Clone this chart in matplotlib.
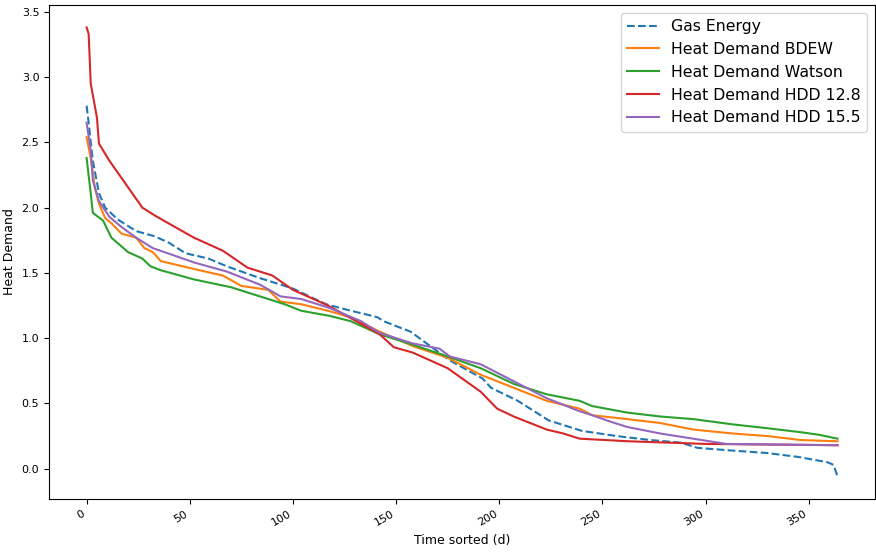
import numpy as np
import matplotlib
matplotlib.use("Agg")
import matplotlib.pyplot as plt

# sorted daily values (day, value)
gas_days = [0, 1, 3, 6, 9, 15, 24, 33, 40, 48, 59, 68, 84, 100, 116, 128, 136, 141, 144, 152, 157,
            176, 192, 196, 209, 224, 240, 257, 273, 288, 296, 312, 330, 345, 359, 362, 364]
gas_vals = [2.78, 2.65, 2.36, 2.11, 2.0, 1.91, 1.82, 1.78, 1.73, 1.65, 1.61, 1.55, 1.46, 1.38, 1.26,
            1.21, 1.18, 1.16, 1.13, 1.08, 1.05, 0.83, 0.69, 0.62, 0.52, 0.37, 0.29, 0.25, 0.22, 0.20,
            0.16, 0.14, 0.12, 0.09, 0.05, 0.03, -0.06]

bdew_days = [0, 2, 4, 6, 9, 12, 17, 24, 28, 32, 36, 52, 66, 75, 88, 94, 104, 117, 128, 142, 158,
             175, 191, 207, 223, 239, 245, 262, 278, 294, 313, 330, 346, 364]
bdew_vals = [2.54, 2.38, 2.15, 2.03, 1.92, 1.88, 1.80, 1.77, 1.69, 1.66, 1.59, 1.53, 1.48, 1.40,
             1.37, 1.28, 1.26, 1.21, 1.16, 1.05, 0.94, 0.85, 0.72, 0.62, 0.52, 0.46, 0.41, 0.38,
             0.35, 0.30, 0.27, 0.25, 0.22, 0.21]

watson_days = [0, 2, 3, 8, 12, 20, 27, 31, 36, 52, 70, 86, 96, 104, 118, 128, 142, 158, 175, 191,
               207, 223, 239, 245, 262, 278, 294, 313, 330, 346, 355, 364]
watson_vals = [2.38, 2.11, 1.96, 1.90, 1.77, 1.66, 1.61, 1.55, 1.52, 1.45, 1.39, 1.31, 1.26, 1.21,
               1.17, 1.13, 1.03, 0.95, 0.86, 0.77, 0.65, 0.57, 0.52, 0.48, 0.43, 0.40, 0.38, 0.34,
               0.31, 0.28, 0.26, 0.23]

hdd128_days = [0, 1, 2, 5, 6, 11, 19, 27, 33, 43, 52, 66, 78, 90, 100, 117, 133, 142, 149, 158,
               175, 191, 199, 207, 215, 223, 231, 239, 263, 300, 364]
hdd128_vals = [3.38, 3.33, 2.95, 2.69, 2.49, 2.36, 2.18, 2.0, 1.94, 1.85, 1.77, 1.67, 1.54, 1.48,
               1.37, 1.25, 1.11, 1.03, 0.93, 0.89, 0.77, 0.59, 0.46, 0.40, 0.35, 0.30, 0.27, 0.23,
               0.21, 0.19, 0.18]

hdd155_days = [0, 2, 3, 6, 11, 17, 24, 32, 43, 52, 68, 84, 94, 104, 118, 133, 142, 158, 171, 176,
               191, 207, 223, 239, 245, 254, 262, 278, 294, 302, 310, 364]
hdd155_vals = [2.65, 2.44, 2.21, 2.05, 1.93, 1.85, 1.77, 1.69, 1.63, 1.58, 1.51, 1.41, 1.32, 1.30,
               1.23, 1.13, 1.04, 0.96, 0.92, 0.86, 0.80, 0.67, 0.54, 0.44, 0.41, 0.36, 0.32, 0.27,
               0.23, 0.21, 0.19, 0.18]

fig = plt.figure(figsize=(8.76, 5.52), dpi=100)
ax = fig.add_axes([0.056, 0.096, 0.943, 0.895])

ax.plot(gas_days, gas_vals, linestyle="--", label="Gas Energy")
ax.plot(bdew_days, bdew_vals, label="Heat Demand BDEW")
ax.plot(watson_days, watson_vals, label="Heat Demand Watson")
ax.plot(hdd128_days, hdd128_vals, label="Heat Demand HDD 12.8")
ax.plot(hdd155_days, hdd155_vals, label="Heat Demand HDD 15.5")

ax.set_xlabel("Time sorted (d)", fontsize=9)
ax.set_ylabel("Heat Demand", fontsize=9)
ax.tick_params(labelsize=8)
plt.setp(ax.get_xticklabels(), rotation=30, ha="right")
ax.legend(loc="upper right", fontsize=11.3)

fig.savefig("out.png", dpi=100)
